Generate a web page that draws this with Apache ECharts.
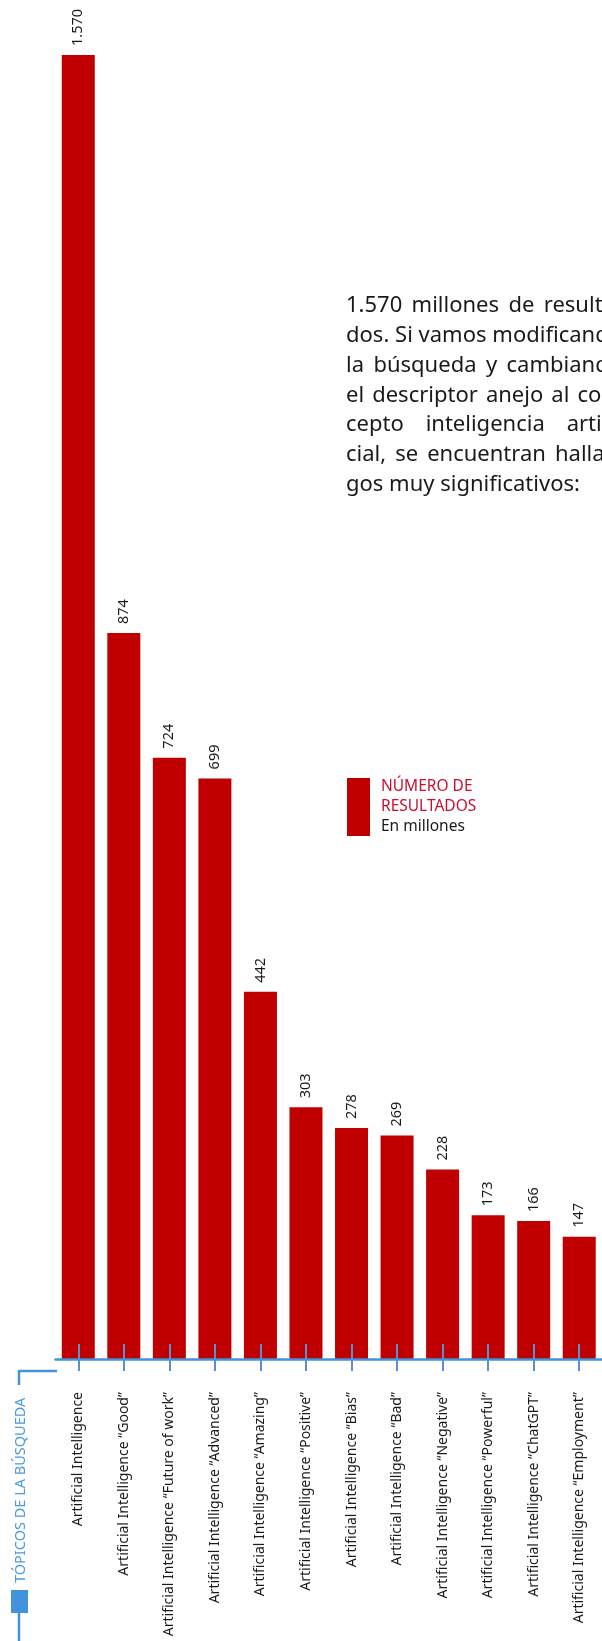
<!DOCTYPE html>
<html>
<head>
<meta charset="utf-8">
<script src="https://cdn.jsdelivr.net/npm/echarts@6/dist/echarts.min.js"></script>
<style>
  html, body { margin: 0; padding: 0; background: #fff; }
  #chart { width: 602px; height: 1641px; }
</style>
</head>
<body>
<div id="chart"></div>
<script>
// datos
const categorias = [
  'Artificial Intelligence',
  'Artificial Intelligence “Good”',
  'Artificial Intelligence “Future of work”',
  'Artificial Intelligence “Advanced”',
  'Artificial Intelligence “Amazing”',
  'Artificial Intelligence “Positive”',
  'Artificial Intelligence “Bias”',
  'Artificial Intelligence “Bad”',
  'Artificial Intelligence “Negative”',
  'Artificial Intelligence “Powerful”',
  'Artificial Intelligence “ChatGPT”',
  'Artificial Intelligence “Employment”'
]
const resultados = [1570, 874, 724, 699, 442, 303, 278, 269, 228, 173, 166, 147]

const parrafo = [
  '1.570 millones de resulta-',
  'dos. Si vamos modificando',
  'la búsqueda y cambiando',
  'el descriptor anejo al con-',
  'cepto inteligencia artifi-',
  'cial, se encuentran hallaz-',
  'gos muy significativos:'
]

const ROJO = '#c00000'
const AZUL = '#4393dc'
const FUENTE = '"Noto Sans", sans-serif'

// miles con punto, como en el original
const conPunto = v => String(v).replace(/\B(?=(\d{3})+(?!\d))/g, '.')

// ? texto justificado, palabra por palabra
const ctx = document.createElement('canvas').getContext('2d')
const tamTexto = 22
ctx.font = tamTexto + 'px "Noto Sans"'
const textoX = 346
const textoAncho = 276
const textoY = 317
const interlinea = 29.8
const palabras = []
parrafo.forEach((linea, i) => {
  const ws = linea.split(' ')
  const anchos = ws.map(w => ctx.measureText(w).width)
  const total = anchos.reduce((a, b) => a + b, 0)
  const ultima = i === parrafo.length - 1
  const espacio = ctx.measureText(' ').width
  const hueco = ultima || ws.length < 2 ? espacio : Math.max(espacio * 0.8, (textoAncho - total) / (ws.length - 1))
  let x = textoX
  ws.forEach((w, j) => {
    palabras.push({
      type: 'text',
      x: x,
      y: textoY + i * interlinea,
      style: { text: w, fontSize: tamTexto, fontFamily: FUENTE, fill: '#1a1a1a', verticalAlign: 'bottom' }
    })
    x += anchos[j] + hueco
  })
})

const chart = echarts.init(document.getElementById('chart'))

const option = {
  animation: false,
  // el eje queda 12px por debajo de la base de las barras
  grid: { left: 55.5, right: -5.5, top: 55, bottom: 270, containLabel: false },
  legend: {
    left: 347,
    top: 778,
    padding: 0,
    icon: 'rect',
    itemWidth: 23,
    itemHeight: 58,
    selectedMode: false,
    formatter: '{a|NÚMERO DE}\n{a|RESULTADOS}\n{b|En millones}',
    textStyle: {
      rich: {
        a: { color: '#c8102e', fontSize: 15.5, lineHeight: 20, fontFamily: FUENTE, padding: [0, 0, 0, 6] },
        b: { color: '#1a1a1a', fontSize: 15.5, lineHeight: 20, fontFamily: FUENTE, padding: [0, 0, 0, 6] }
      }
    }
  },
  xAxis: [
    {
      type: 'category',
      data: categorias,
      position: 'bottom',
      z: 10,
      axisLine: { show: true, lineStyle: { color: AZUL, width: 2.5 } },
      axisTick: { show: true, interval: 0, alignWithLabel: true, length: 11, lineStyle: { color: '#6aa6e0', width: 2 } },
      axisLabel: {
        rotate: 90,
        margin: 21,
        interval: 0,
        color: '#1a1a1a',
        fontSize: 14,
        fontFamily: FUENTE
      }
    },
    {
      type: 'category',
      data: categorias,
      position: 'bottom',
      z: 10,
      axisLine: { show: false },
      axisTick: { show: true, interval: 0, inside: true, alignWithLabel: true, length: 27, lineStyle: { color: '#5b8fd0', width: 2 } },
      axisLabel: { show: false, interval: 0 }
    }
  ],
  yAxis: {
    type: 'value',
    min: -14.5,
    max: 1570,
    show: false,
    splitLine: { show: false }
  },
  series: [
    {
      name: 'NÚMERO DE RESULTADOS',
      type: 'bar',
      xAxisIndex: 0,
      data: resultados,
      barWidth: 33,
      itemStyle: { color: ROJO },
      label: {
        show: true,
        position: 'top',
        rotate: 90,
        align: 'left',
        verticalAlign: 'middle',
        distance: 9,
        color: '#1a1a1a',
        fontSize: 14.5,
        fontFamily: FUENTE,
        formatter: p => conPunto(p.value)
      }
    }
  ],
  color: [ROJO],
  graphic: [
    ...palabras,
    // esquina del eje y título vertical
    { type: 'line', shape: { x1: 19, y1: 1371, x2: 57, y2: 1371 }, style: { stroke: AZUL, lineWidth: 2.5 } },
    { type: 'line', shape: { x1: 19, y1: 1370, x2: 19, y2: 1385 }, style: { stroke: AZUL, lineWidth: 2.5 } },
    {
      type: 'text',
      x: 20.5,
      y: 1583,
      rotation: Math.PI / 2,
      style: { text: 'TÓPICOS DE LA BÚSQUEDA', fontSize: 14.5, fontFamily: FUENTE, fill: '#4a9ae0', align: 'left', verticalAlign: 'middle' }
    },
    { type: 'rect', shape: { x: 11, y: 1590, width: 17, height: 23 }, style: { fill: AZUL } },
    { type: 'line', shape: { x1: 19, y1: 1612, x2: 19, y2: 1641 }, style: { stroke: AZUL, lineWidth: 2.5 } }
  ]
}

chart.setOption(option)
</script>
</body>
</html>
